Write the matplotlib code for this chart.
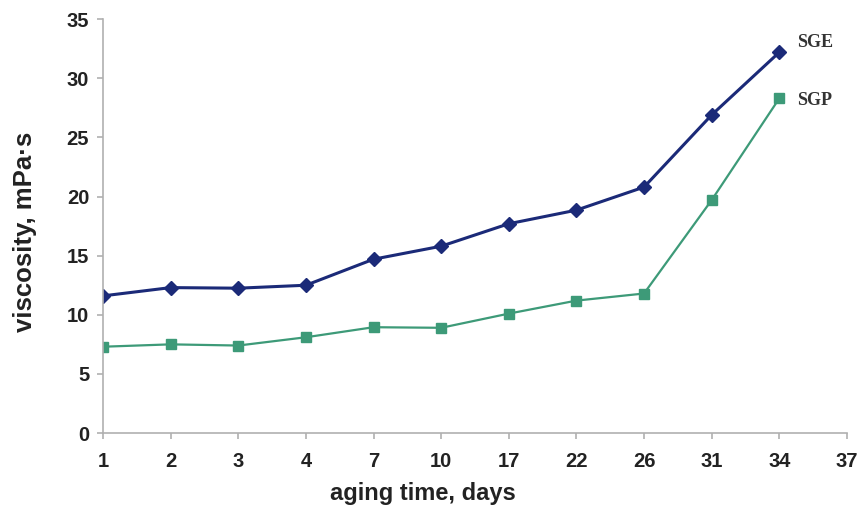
import matplotlib
matplotlib.use("Agg")
import matplotlib.pyplot as plt

#%% --- Data ---

days = ["1", "2", "3", "4", "7", "10", "17", "22", "26", "31", "34", "37"]
sge = [11.6, 12.3, 12.25, 12.5, 14.7, 15.8, 17.7, 18.85, 20.8, 26.9, 32.2]
sgp = [7.3, 7.5, 7.4, 8.1, 8.95, 8.9, 10.1, 11.2, 11.8, 19.7, 28.3]

#%% --- Plot ---

plt.rcParams["font.family"] = ["Liberation Sans", "DejaVu Sans"]

fig = plt.figure(figsize=(8.68, 5.18), dpi=100)
ax = fig.add_axes([0.1187, 0.164, 0.857, 0.799])

pos = list(range(len(sge)))
ax.plot(pos, sge, color="#1b2a78", marker="D", markersize=7, linewidth=2.2)
ax.plot(pos, sgp, color="#3d9a78", marker="s", markersize=7, linewidth=1.6)

# series names at the right end of each line
ax.text(pos[-1] + 0.26, sge[-1] + 0.8, "SGE", family="Liberation Serif",
        fontweight="bold", fontsize=13, color="#333333", va="center")
ax.text(pos[-1] + 0.27, sgp[-1] - 0.15, "SGP", family="Liberation Serif",
        fontweight="bold", fontsize=13, color="#333333", va="center")

ax.set_xlim(0, len(days) - 1)
ax.set_ylim(0, 35)
ax.set_xticks(range(len(days)))
ax.set_xticklabels(days)
ax.set_yticks(range(0, 36, 5))

for side in ["top", "right"]:
    ax.spines[side].set_visible(False)
for side in ["left", "bottom"]:
    ax.spines[side].set_color("#b0b0b0")
    ax.spines[side].set_linewidth(1.2)

ax.tick_params(axis="both", colors="#b0b0b0", length=4, width=1.2,
               labelsize=14.5, labelcolor="#222222")
ax.tick_params(axis="y", pad=6)
ax.tick_params(axis="x", pad=10)
for lbl in ax.get_xticklabels() + ax.get_yticklabels():
    lbl.set_fontweight("bold")

ax.set_xlabel("aging time, days", fontsize=17, fontweight="bold",
              color="#222222")
ax.set_ylabel("viscosity, mPa·s", fontsize=18.5, fontweight="bold",
              color="#222222")
ax.xaxis.set_label_coords(0.43, -0.118)
ax.yaxis.set_label_coords(-0.089, 0.486)

fig.savefig("out.png", dpi=100)
